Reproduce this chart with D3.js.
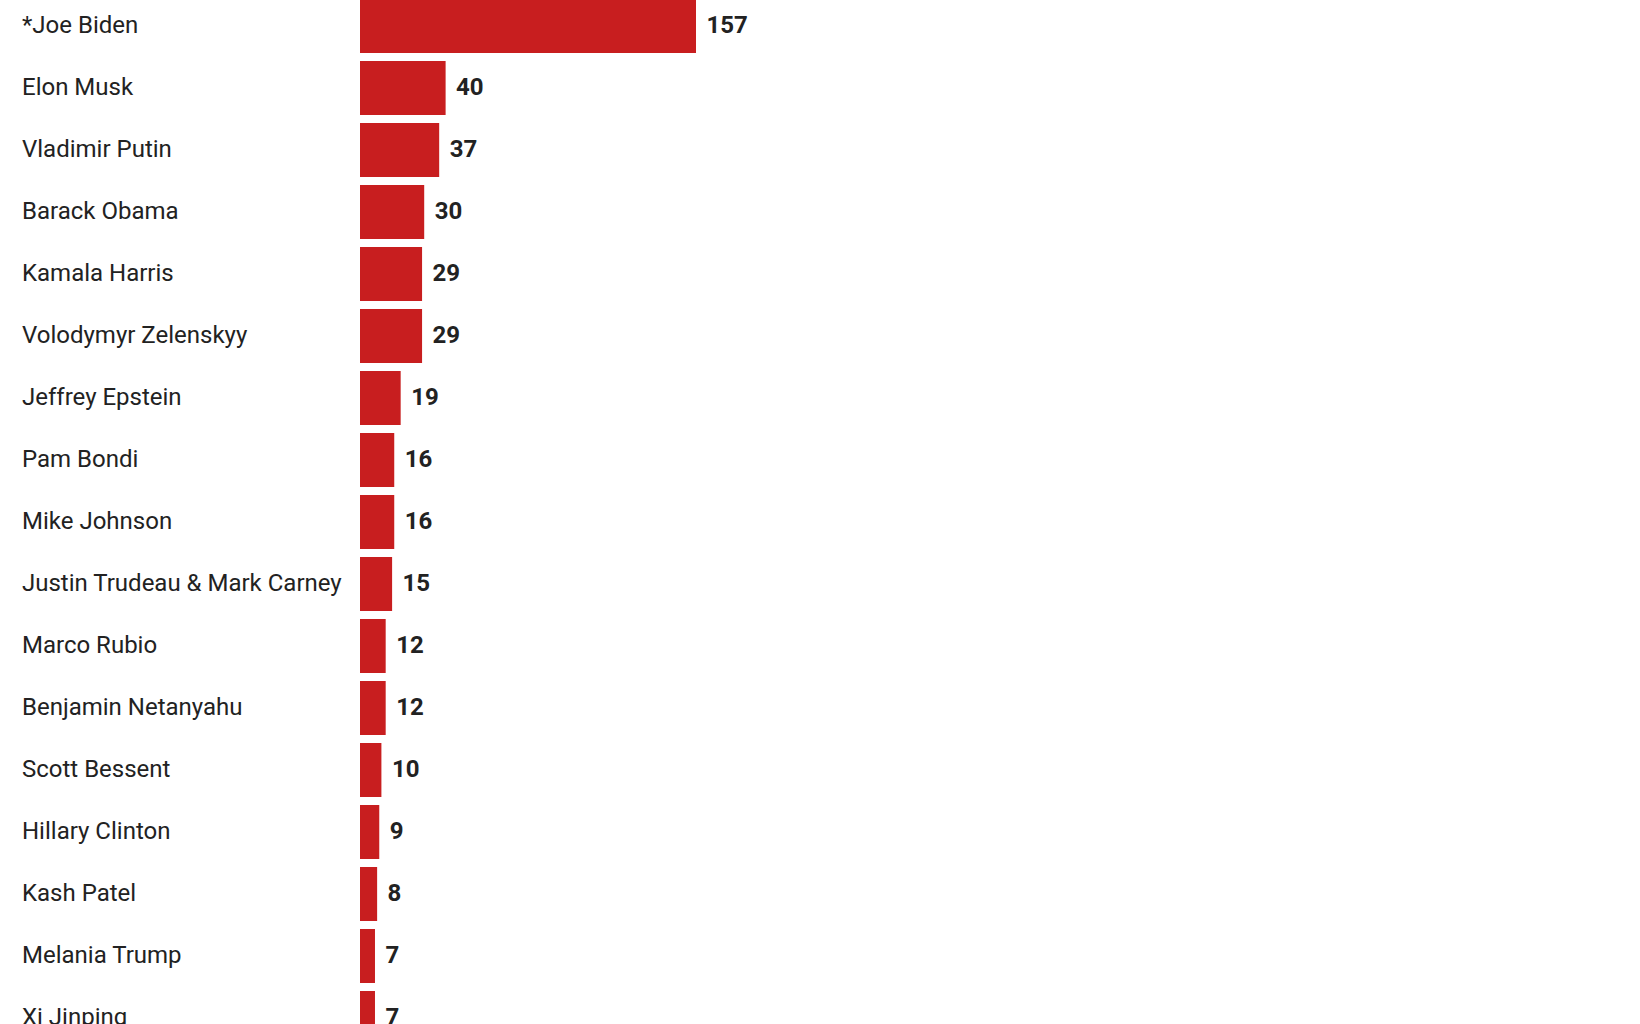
<!DOCTYPE html>
<html>
<head>
<meta charset="utf-8">
<script src="https://cdn.jsdelivr.net/npm/d3@7"></script>
<style>
html,body{margin:0;padding:0;background:#fff;overflow:hidden;}
svg{display:block;}
</style>
</head>
<body>
<svg id="chart" width="1640" height="1024"></svg>
<script>
const names = ["*Joe Biden","Elon Musk","Vladimir Putin","Barack Obama","Kamala Harris","Volodymyr Zelenskyy","Jeffrey Epstein","Pam Bondi","Mike Johnson","Justin Trudeau & Mark Carney","Marco Rubio","Benjamin Netanyahu","Scott Bessent","Hillary Clinton","Kash Patel","Melania Trump","Xi Jinping"];
const counts = [157,40,37,30,29,29,19,16,16,15,12,12,10,9,8,7,7];

const data = names.map((n,i)=>({name:n, value:counts[i]}));
const svg = d3.select("#chart");
const step = 62;
const y = d3.scaleBand()
  .domain(names)
  .range([-5, -5 + names.length*step])
  .paddingInner(8/62)
  .paddingOuter(4/62);
const x = d3.scaleLinear().domain([0,157]).range([360,696]);

const row = svg.selectAll("g.row").data(data).join("g").attr("class","row");

row.append("rect")
  .attr("x", x(0))
  .attr("y", d=>y(d.name))
  .attr("width", d=>x(d.value)-x(0))
  .attr("height", y.bandwidth())
  .attr("fill","#c81e1f");

row.append("text")
  .attr("x", 22)
  .attr("y", d=>y(d.name)+y.bandwidth()/2+6.5)
  .attr("font-family","Roboto, sans-serif")
  .attr("font-size",24)
  .attr("fill","#222")
  .text(d=>d.name);

row.append("text")
  .attr("x", d=>x(d.value)+10.5)
  .attr("y", d=>y(d.name)+y.bandwidth()/2+6.5)
  .attr("font-family","Roboto, sans-serif")
  .attr("font-size",24)
  .attr("font-weight","bold")
  .attr("fill","#222")
  .text(d=>d.value);
</script>
</body>
</html>
